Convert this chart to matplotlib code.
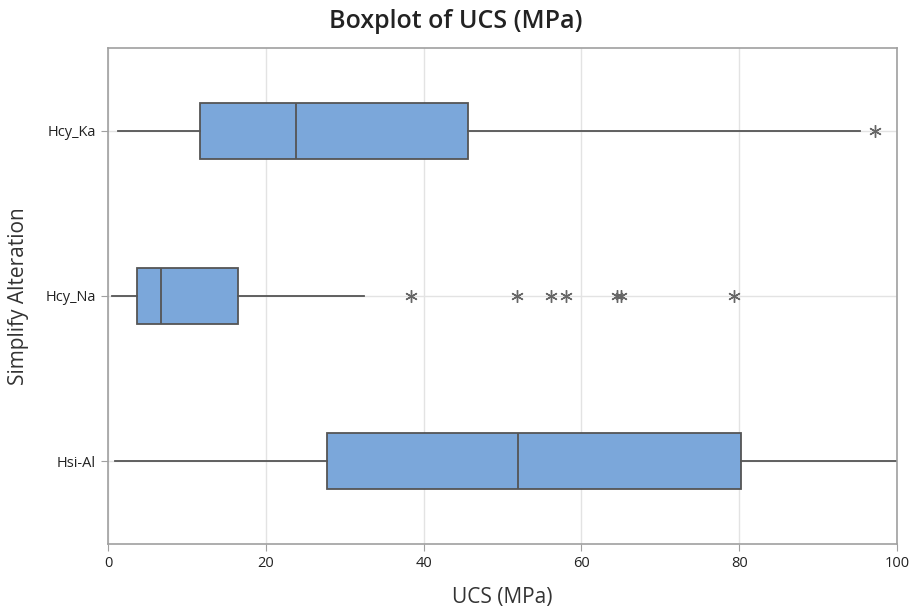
import matplotlib.pyplot as plt

plt.rcParams['font.family'] = ['Open Sans', 'DejaVu Sans']

# grupos (de baixo para cima) e estatisticas
grupos = ['Hsi-Al', 'Hcy_Na', 'Hcy_Ka']
minimos = [0.9, 0.5, 1.3]
q1 = [27.7, 3.7, 11.7]
medianas = [52.0, 6.7, 23.8]
q3 = [80.2, 16.5, 45.6]
maximos = [100.0, 32.4, 95.3]
outliers = [[], [38.4, 51.8, 56.1, 58.0, 64.5, 65.0, 79.3], [97.2]]

stats = []
for i in range(len(grupos)):
    stats.append({'whislo': minimos[i], 'q1': q1[i], 'med': medianas[i],
                  'q3': q3[i], 'whishi': maximos[i], 'fliers': outliers[i],
                  'label': grupos[i]})

fig = plt.figure(figsize=(9.12, 6.12), dpi=100)
ax = fig.add_axes([0.1184, 0.1111, 0.8652, 0.8105])

cinza = '#555555'
ax.bxp(stats, positions=[1, 2, 3], vert=False, widths=0.34, patch_artist=True,
       showcaps=False,
       boxprops=dict(facecolor='#7BA7DA', edgecolor=cinza, linewidth=1.3),
       medianprops=dict(color=cinza, linewidth=1.3),
       whiskerprops=dict(color=cinza, linewidth=1.3),
       flierprops=dict(marker=(6, 2, 0), markersize=9, markeredgecolor='#666666',
                       markerfacecolor='#666666', markeredgewidth=1.0, linestyle='none'))

ax.set_xlim(0, 100)
ax.set_ylim(0.5, 3.5)
ax.set_xticks([0, 20, 40, 60, 80, 100])
ax.grid(True, color='#e3e3e3', linewidth=1)
ax.set_axisbelow(True)
for s in ax.spines.values():
    s.set_color('#a0a0a0')
    s.set_linewidth(1.2)
ax.tick_params(axis='both', labelsize=10.5, colors='#a0a0a0', labelcolor='#222222', length=5)

# titulo centrado na figura, nao no eixo
fig.text(0.5, 1 - 22 / 612, 'Boxplot of UCS (MPa)', fontsize=18, fontweight='semibold',
         color='#222222', ha='center', va='center')
ax.set_xlabel('UCS (MPa)', fontsize=15, color='#333333', labelpad=12)
ax.set_ylabel('Simplify Alteration', fontsize=15, color='#333333', labelpad=12)

plt.savefig('out.png')
